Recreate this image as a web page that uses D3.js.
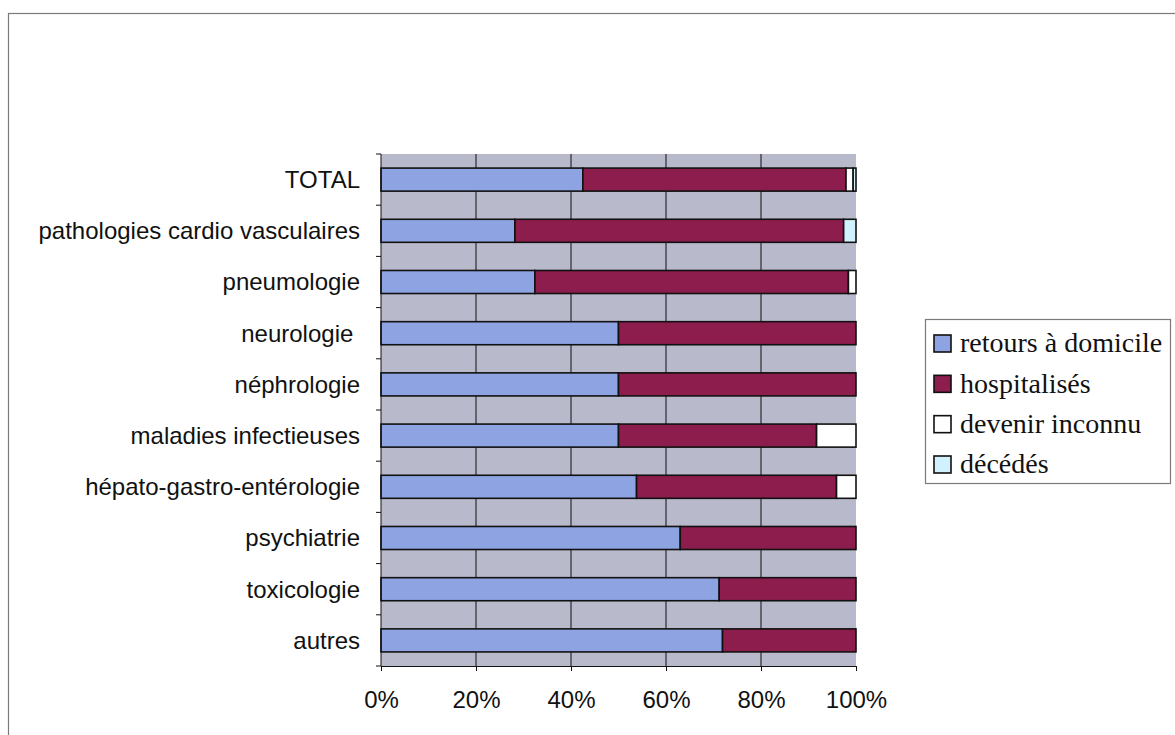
<!DOCTYPE html>
<html><head><meta charset="utf-8">
<script src="https://cdn.jsdelivr.net/npm/d3@7"></script>
<style>
html,body{margin:0;padding:0;background:#fff;}
svg{display:block;}
text{white-space:pre;}
</style></head>
<body>
<svg id="chart" width="1175" height="735"></svg>
<script>
const categories = ["TOTAL","pathologies cardio vasculaires","pneumologie","neurologie ","néphrologie","maladies infectieuses","hépato-gastro-entérologie","psychiatrie","toxicologie","autres"];
const seriesNames = ["retours à domicile","hospitalisés","devenir inconnu","décédés"];
const retours   = [42.5, 28.2, 32.4, 50, 50, 50, 53.8, 63, 71.2, 71.9];
const hospit    = [55.4, 69.2, 66.0, 50, 50, 41.7, 42.1, 37, 28.8, 28.1];
const inconnu   = [1.5, 0, 1.6, 0, 0, 8.3, 4.1, 0, 0, 0];
const decedes   = [0.6, 2.6, 0, 0, 0, 0, 0, 0, 0, 0];
const xTicks = [0, 20, 40, 60, 80, 100];
const colors = ["#8ea4e2","#8c1d4d","#ffffff","#d2f1ff"];

const svg = d3.select("#chart");
// outer frame
svg.append("rect").attr("x",8.5).attr("y",13.5).attr("width",1180).attr("height",740)
  .attr("fill","none").attr("stroke","#7a7a7a").attr("stroke-width",1.2);

const L=381, R=856, T=154, B=666;
const x = d3.scaleLinear().domain([0,100]).range([L,R]);
const y = d3.scaleBand().domain(categories).range([T,B]).paddingInner(0.55).paddingOuter(0.275);

svg.append("rect").attr("x",L).attr("y",T).attr("width",R-L).attr("height",B-T).attr("fill","#b9b9cc");

// gridlines
svg.append("g").selectAll("line").data(xTicks.filter(d=>d>0&&d<100)).join("line")
  .attr("x1",d=>x(d)).attr("x2",d=>x(d)).attr("y1",T).attr("y2",B)
  .attr("stroke","#111").attr("stroke-width",1);

const rows = categories.map((c,i)=>({c, vals:[retours[i],hospit[i],inconnu[i],decedes[i]]}));
const stackData = categories.map((c,i)=>({c, s0:retours[i], s1:hospit[i], s2:inconnu[i], s3:decedes[i]}));
const stack = d3.stack().keys(["s0","s1","s2","s3"])(stackData);

const gBars = svg.append("g");
stack.forEach((layer,k)=>{
  gBars.append("g").selectAll("rect").data(layer.filter(d=>d[1]-d[0]>0)).join("rect")
    .attr("x",d=>x(d[0])).attr("width",d=>x(d[1])-x(d[0]))
    .attr("y",d=>y(d.data.c)).attr("height",y.bandwidth())
    .attr("fill",colors[k]).attr("stroke","#111").attr("stroke-width",1.6);
});

// axes
const xAxis = d3.axisBottom(x).tickValues(xTicks).tickFormat(d=>d+"%").tickSize(5).tickPadding(20);
const gx = svg.append("g").attr("transform",`translate(0,${B})`).call(xAxis);
gx.select(".domain").attr("stroke","#111");
gx.selectAll(".tick line").attr("stroke","#111");
gx.selectAll("text").attr("font-family","Liberation Sans, Arial, sans-serif").attr("font-size",24).attr("fill","#111");

const gy = svg.append("g").attr("transform",`translate(${L},0)`);
gy.append("line").attr("x1",0).attr("x2",0).attr("y1",T).attr("y2",B).attr("stroke","#111");
const step = y.step();
const bounds = d3.range(categories.length+1).map(i=>T+i*(B-T)/categories.length);
gy.selectAll("line.tk").data(bounds).join("line").attr("class","tk")
  .attr("x1",-5).attr("x2",0).attr("y1",d=>d).attr("y2",d=>d).attr("stroke","#111");
gy.selectAll("text").data(categories).join("text")
  .attr("x",-21).attr("y",d=>y(d)+y.bandwidth()/2).attr("dy","0.35em")
  .attr("text-anchor","end").attr("font-family","Liberation Sans, Arial, sans-serif")
  .attr("font-size",24).attr("fill","#111").text(d=>d);

// legend
const lg = svg.append("g");
lg.append("rect").attr("x",925.5).attr("y",319.5).attr("width",245).attr("height",164)
  .attr("fill","#fff").attr("stroke","#7a7a7a").attr("stroke-width",1.2);
const ly = d3.scalePoint().domain(seriesNames).range([343,464]);
seriesNames.forEach((n,k)=>{
  lg.append("rect").attr("x",934).attr("y",ly(n)-8).attr("width",17).attr("height",17)
    .attr("fill",colors[k]).attr("stroke","#111").attr("stroke-width",1.6);
  lg.append("text").attr("x",960).attr("y",ly(n)).attr("dy","0.33em")
    .attr("font-family","Liberation Serif, Times New Roman, serif").attr("font-size",28)
    .attr("fill","#111").text(n);
});
</script>
</body></html>
